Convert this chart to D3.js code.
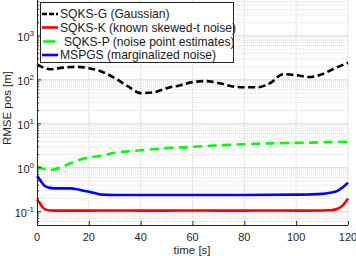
<!DOCTYPE html>
<html>
<head>
<meta charset="utf-8">
<script src="https://cdn.jsdelivr.net/npm/d3@7"></script>
<style>
  html, body { margin: 0; padding: 0; background: white; }
  svg { display: block; font-family: "Liberation Sans", Arial, sans-serif; }
</style>
</head>
<body>
<div id="chart"></div>
<script>
// RMSE of position estimates vs time, log scale
const timeG = [0, 5, 10, 15, 20, 25, 30, 35, 40, 45, 50, 55, 60, 65, 70, 75, 80, 85, 90, 95, 100, 105, 110, 115, 120];
const rmseG = [225, 175, 190, 198, 185, 154, 110, 72, 50, 52, 65, 75, 89, 94, 85, 72, 68, 68, 85, 135, 128, 116, 135, 185, 245];

const timeK = [0, 1, 2, 3, 5, 10, 20, 30, 40, 50, 60, 70, 80, 90, 100, 110, 112, 114, 116, 118, 120];
const rmseK = [0.19, 0.16, 0.13, 0.115, 0.107, 0.106, 0.106, 0.107, 0.106, 0.106, 0.107, 0.106, 0.106, 0.107, 0.106, 0.107, 0.108, 0.11, 0.117, 0.14, 0.2];

const timeP = [0, 2, 5, 10, 15, 20, 25, 30, 40, 50, 60, 70, 80, 90, 100, 110, 120];
const rmseP = [1.08, 0.96, 0.89, 1.07, 1.43, 1.7, 1.9, 2.2, 2.5, 2.8, 3.0, 3.25, 3.45, 3.6, 3.7, 3.8, 3.9];

const timeM = [0, 1, 2, 3, 5, 8, 13, 15, 18, 20, 23, 25, 30, 40, 60, 80, 100, 105, 110, 113, 116, 118, 120];
const rmseM = [0.65, 0.55, 0.45, 0.385, 0.35, 0.34, 0.34, 0.33, 0.3, 0.286, 0.26, 0.245, 0.24, 0.24, 0.24, 0.24, 0.245, 0.248, 0.255, 0.27, 0.3, 0.36, 0.46];

const xTicks = [0, 20, 40, 60, 80, 100, 120];
const yDecades = [-1, 0, 1, 2, 3];

const series = [
    { name: "SQKS-G (Gaussian)", t: timeG, v: rmseG, color: "#000000", dash: "7,3.5" },
    { name: "SQKS-K (known skewed-t noise)", t: timeK, v: rmseK, color: "#ff0000", dash: null },
    { name: "SQKS-P (noise point estimates)", t: timeP, v: rmseP, color: "#00ff00", dash: "9,5.5" },
    { name: "MSPGS (marginalized noise)", t: timeM, v: rmseM, color: "#0000ff", dash: null }
];

const width = 356, height = 256;
const plotLeft = 37, plotRight = 348, plotTop = -8, plotBottom = 225;

const svg = d3.select("#chart").append("svg")
    .attr("width", width)
    .attr("height", height)
    .style("overflow", "hidden");

const x = d3.scaleLinear().domain([0, 120]).range([plotLeft, plotRight]);
const y = d3.scaleLog().domain([0.05, 10000]).range([plotBottom, plotTop]);

// grid
const grid = svg.append("g");
const minors = [];
for (let e = -2; e <= 3; e++) {
    for (let m = 2; m <= 9; m++) {
        const v = m * Math.pow(10, e);
        if (v > 0.05 && v < 10000) minors.push(v);
    }
}
grid.selectAll("line.minor")
    .data(minors)
    .join("line")
    .attr("x1", plotLeft).attr("x2", plotRight)
    .attr("y1", d => y(d)).attr("y2", d => y(d))
    .attr("stroke", "#dcdcdc")
    .attr("stroke-width", 1)
    .attr("stroke-dasharray", "1,1");
grid.selectAll("line.major")
    .data(yDecades)
    .join("line")
    .attr("x1", plotLeft).attr("x2", plotRight)
    .attr("y1", d => y(Math.pow(10, d))).attr("y2", d => y(Math.pow(10, d)))
    .attr("stroke", "#d2d2d2")
    .attr("stroke-width", 1);
grid.selectAll("line.vx")
    .data(xTicks.slice(1))
    .join("line")
    .attr("x1", d => x(d)).attr("x2", d => x(d))
    .attr("y1", plotTop).attr("y2", plotBottom)
    .attr("stroke", "#d2d2d2")
    .attr("stroke-width", 1)
    .attr("stroke-dasharray", "1,1");

// series
const line = d3.line().curve(d3.curveMonotoneX);
const plot = svg.append("g");
series.forEach(s => {
    plot.append("path")
        .attr("d", line(s.t.map((t, i) => [x(t), y(s.v[i])])))
        .attr("fill", "none")
        .attr("stroke", s.color)
        .attr("stroke-width", 2.6)
        .attr("stroke-dasharray", s.dash);
});

// axes
const axes = svg.append("g").attr("stroke", "#262626");
axes.append("line").attr("x1", plotLeft + 0.5).attr("x2", plotLeft + 0.5).attr("y1", plotTop).attr("y2", plotBottom + 0.5);
axes.append("line").attr("x1", plotLeft).attr("x2", plotRight).attr("y1", plotBottom + 0.5).attr("y2", plotBottom + 0.5);
axes.selectAll("line.ty")
    .data(yDecades)
    .join("line")
    .attr("x1", plotLeft).attr("x2", plotLeft + 4)
    .attr("y1", d => y(Math.pow(10, d))).attr("y2", d => y(Math.pow(10, d)));
axes.selectAll("line.tm")
    .data(minors)
    .join("line")
    .attr("x1", plotLeft).attr("x2", plotLeft + 2)
    .attr("y1", d => y(d)).attr("y2", d => y(d));
axes.selectAll("line.tx")
    .data(xTicks)
    .join("line")
    .attr("x1", d => x(d) + 0.5).attr("x2", d => x(d) + 0.5)
    .attr("y1", plotBottom).attr("y2", plotBottom - 4);

const labels = svg.append("g").attr("fill", "#262626").attr("font-size", 11);
labels.selectAll("text.xl")
    .data(xTicks)
    .join("text")
    .attr("x", d => x(d))
    .attr("y", 241)
    .attr("text-anchor", "middle")
    .text(d => d);
const yl = labels.selectAll("text.yl")
    .data(yDecades)
    .join("text")
    .attr("x", 34)
    .attr("y", d => y(Math.pow(10, d)) + 5)
    .attr("text-anchor", "end");
yl.append("tspan").text("10");
yl.append("tspan").attr("dy", -5).attr("font-size", 8).text(d => d);

labels.append("text")
    .attr("x", 192)
    .attr("y", 254)
    .attr("text-anchor", "middle")
    .attr("font-size", 11.5)
    .text("time [s]");
labels.append("text")
    .attr("transform", "translate(11,108) rotate(-90)")
    .attr("text-anchor", "middle")
    .attr("font-size", 11.5)
    .text("RMSE pos [m]");

// legend
const legend = svg.append("g");
legend.append("rect")
    .attr("x", 40.5).attr("y", 2.5)
    .attr("width", 193).attr("height", 60)
    .attr("fill", "white")
    .attr("stroke", "#262626");
const rowY = [14, 27.5, 41.5, 55];
series.forEach((s, i) => {
    const isP = s.name.startsWith("SQKS-P");
    const g = legend.append("g").attr("transform", `translate(0,${rowY[i]})`);
    g.append("line")
        .attr("x1", isP ? 43 : 42)
        .attr("x2", isP ? 55 : 58)
        .attr("stroke", s.color)
        .attr("stroke-width", 2.6)
        .attr("stroke-dasharray", s.dash && !isP ? "5,2" : null);
    g.append("text")
        .attr("x", isP ? 64 : 60)
        .attr("y", 4)
        .attr("font-size", 12.1)
        .attr("fill", "#1a1a1a")
        .text(s.name);
});
</script>
</body>
</html>
